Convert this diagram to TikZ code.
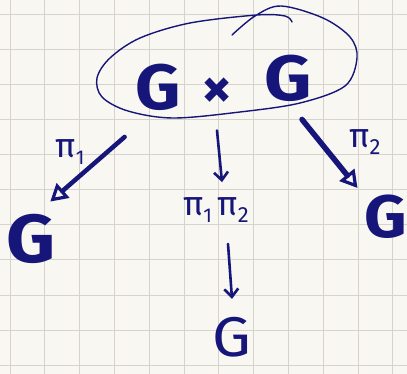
\documentclass[tikz,border=0pt]{standalone}
\usepackage{fontspec}
\setmainfont{Fira Sans}
\usetikzlibrary{arrows.meta}
\definecolor{ink}{RGB}{22,22,122}
\definecolor{paper}{RGB}{249,247,241}
\definecolor{gridc}{RGB}{214,211,204}
\newcommand{\pisub}[2]{π\raisebox{-0.22em}{\fontsize{#2}{#2}\selectfont #1}}
\newcommand{\wideG}[1]{\scalebox{#1}[1]{G}}
\begin{document}
\begin{tikzpicture}[x=1pt,y=-1pt,
  gbold/.style={text=ink, inner sep=0pt, font=\fontsize{#1}{#1}\selectfont\bfseries},
  greg/.style={text=ink, inner sep=0pt, font=\fontsize{#1}{#1}\selectfont},
  lab/.style={text=ink, inner sep=0pt, font=\fontsize{34}{34}\selectfont},
  thickarr/.style={draw=ink, line width=#1, line cap=round,
    -{Triangle[open, length=17pt, width=19pt, line width=3.2pt]}},
  midarr/.style={draw=ink, line width=2.6pt, line cap=round,
    -{Straight Barb[length=8pt, width=14pt, line width=2.6pt]}},
  gridline/.style={draw=gridc, line width=1pt},
  loop/.style={draw=ink, line width=1.4pt, line cap=round}]
\fill[paper] (0,0) rectangle (407,374);
\useasboundingbox (0,0) rectangle (407,374);
\foreach \i in {0,...,11} \draw[gridline] (10+34.8*\i,0) -- (10+34.8*\i,374);
\foreach \j in {0,...,10} \draw[gridline] (0,15+35*\j) -- (407,15+35*\j);
% loop around G x G
\draw[loop] plot[smooth, tension=0.55] coordinates {(232,35) (255,16) (281,6) (323,18) (350,37) (357,58) (345,86) (300,103) (240,112) (173,118) (128,111) (102,97) (97,78) (110,58) (140,38) (190,23) (257,15) (285,16) (292,22)};
% nodes
\node[gbold=64] (gl) at (158,87) {\wideG{1.1}};
\node[gbold=60] (times) at (217,93) {×};
\node[gbold=64] (gr) at (288,78) {\wideG{1.15}};
\node[gbold=68] (lg) at (31,239) {\wideG{1.12}};
\node[gbold=60] (rg) at (386,217) {\wideG{1.1}};
\node[greg=56] (bg) at (232,337) {\wideG{1.1}};
\node[lab] (p1) at (70,152) {\pisub{1}{20}};
\node[lab] (p2) at (365,142) {\pisub{2}{22}};
\node[lab] (pp) at (216,210) {\pisub{1}{20}\,\pisub{2}{22}};
% connectors
\draw[thickarr=4.5pt] ([xshift=-10.5pt,yshift=-26.5pt]gl.south west) -- ([xshift=-5.5pt,yshift=12.5pt]lg.north east);
\draw[midarr] ([yshift=-22pt]times.south) -- ([xshift=6pt,yshift=15pt]pp.north);
\draw[midarr] ([xshift=12pt,yshift=-21pt]pp.south) -- ([yshift=18pt]bg.north);
\draw[thickarr=5.5pt] ([xshift=14pt,yshift=-18pt]gr.south) -- ([xshift=-7pt,yshift=7pt]rg.north west);
\end{tikzpicture}
\end{document}
